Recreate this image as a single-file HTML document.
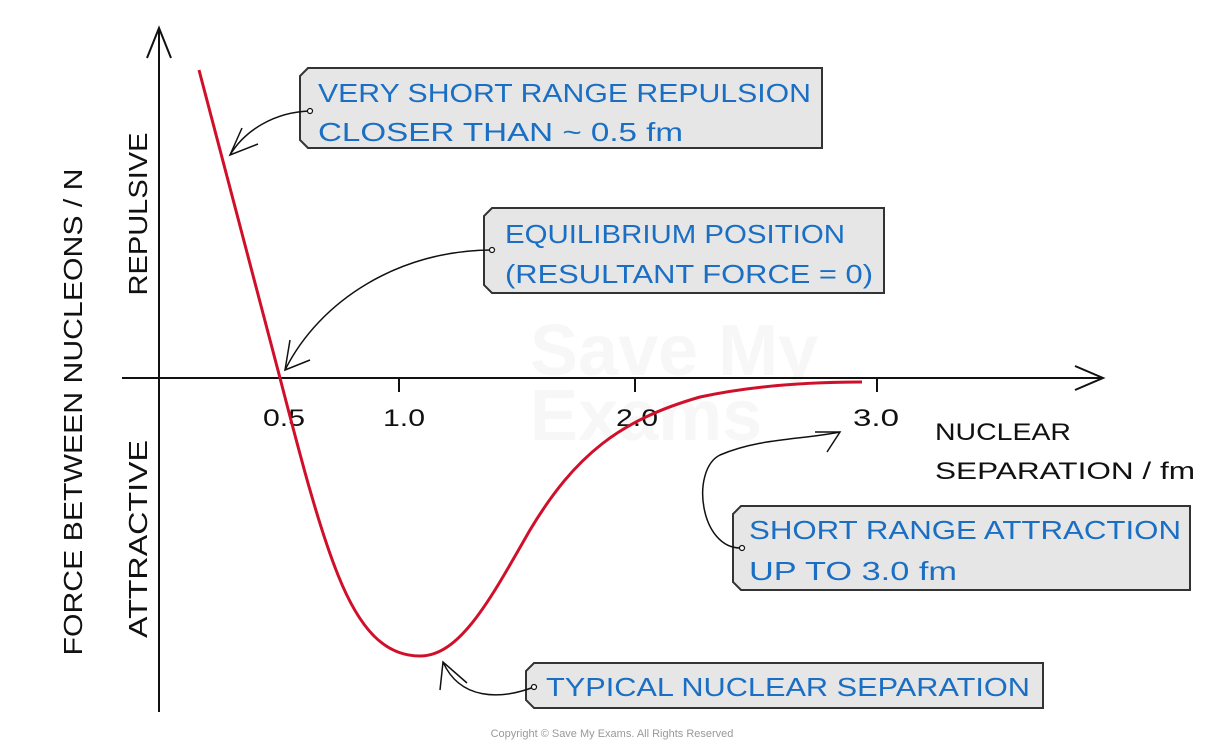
<!DOCTYPE html>
<html><head><meta charset="utf-8"><style>
html,body{margin:0;padding:0;background:#fff;}
svg{display:block;}
text{font-family:"Liberation Sans",sans-serif;}
</style></head><body>
<svg width="1226" height="748" viewBox="0 0 1226 748" xmlns="http://www.w3.org/2000/svg">
<!-- watermark -->
<text x="530" y="375" font-size="72" font-weight="bold" fill="#f7f7f7">Save My</text>
<text x="530" y="440" font-size="72" font-weight="bold" fill="#f7f7f7">Exams</text>
<!-- axes -->
<g stroke="#111" stroke-width="2" fill="none">
<line x1="159" y1="30" x2="159" y2="712"/>
<polyline points="147,58 159,28 171,58"/>
<line x1="122" y1="378" x2="1103" y2="378"/>
<polyline points="1075,366 1103,378 1075,390"/>
<line x1="399" y1="378" x2="399" y2="392"/>
<line x1="635" y1="378" x2="635" y2="392"/>
<line x1="877" y1="378" x2="877" y2="392"/>
</g>
<!-- axis labels -->
<g font-size="24" fill="#111">
<text x="263" y="426" textLength="42" lengthAdjust="spacingAndGlyphs">0.5</text>
<text x="383" y="426" textLength="42" lengthAdjust="spacingAndGlyphs">1.0</text>
<text x="616" y="426" textLength="42" lengthAdjust="spacingAndGlyphs">2.0</text>
<text x="853" y="426" textLength="46" lengthAdjust="spacingAndGlyphs">3.0</text>
<text x="935" y="440" textLength="136" lengthAdjust="spacingAndGlyphs">NUCLEAR</text>
<text x="935" y="479" textLength="260" lengthAdjust="spacingAndGlyphs">SEPARATION / fm</text>
</g>
<g font-size="26" fill="#111">
<text transform="translate(82,412) rotate(-90)" text-anchor="middle" textLength="487" lengthAdjust="spacingAndGlyphs">FORCE BETWEEN NUCLEONS / N</text>
<text transform="translate(147,214) rotate(-90)" text-anchor="middle" textLength="163" lengthAdjust="spacingAndGlyphs">REPULSIVE</text>
<text transform="translate(147,539) rotate(-90)" text-anchor="middle" textLength="198" lengthAdjust="spacingAndGlyphs">ATTRACTIVE</text>
</g>
<!-- curve -->
<path d="M199,70 L280,378 C300,455 318,525 338,575 C360,630 385,656 420,656 C460,656 490,600 530,530 C575,455 620,420 700,397 C760,384 820,382 862,382" fill="none" stroke="#d0102a" stroke-width="3"/>
<!-- boxes -->
<g fill="#e6e6e6" stroke="#333" stroke-width="2">
<polygon points="308,68 822,68 822,148 308,148 300,140 300,76"/>
<polygon points="492,208 884,208 884,293 492,293 484,285 484,216"/>
<polygon points="741,506 1190,506 1190,590 741,590 733,582 733,514"/>
<polygon points="534,663 1043,663 1043,708 534,708 526,700 526,671"/>
</g>
<g font-size="26" fill="#1a6fc4">
<text x="318" y="102" textLength="493" lengthAdjust="spacingAndGlyphs">VERY SHORT RANGE REPULSION</text>
<text x="318" y="141" textLength="365" lengthAdjust="spacingAndGlyphs">CLOSER THAN  ~ 0.5 fm</text>
<text x="505" y="243" textLength="340" lengthAdjust="spacingAndGlyphs">EQUILIBRIUM POSITION</text>
<text x="505" y="283" textLength="368" lengthAdjust="spacingAndGlyphs">(RESULTANT FORCE = 0)</text>
<text x="749" y="539" textLength="432" lengthAdjust="spacingAndGlyphs">SHORT RANGE ATTRACTION</text>
<text x="749" y="580" textLength="208" lengthAdjust="spacingAndGlyphs">UP TO 3.0 fm</text>
<text x="546" y="696" textLength="484" lengthAdjust="spacingAndGlyphs">TYPICAL NUCLEAR SEPARATION</text>
</g>
<!-- connectors -->
<g stroke="#111" stroke-width="1.5" fill="none">
<path d="M310,111 C275,112 245,130 230,155"/>
<polyline points="242,128 230,155 258,144"/>
<path d="M492,250 C400,250 320,300 285,370"/>
<polyline points="290,340 285,370 310,360"/>
<path d="M742,548 C700,550 690,470 720,455 C760,438 800,440 840,432"/>
<polyline points="815,432 840,432 827,452"/>
<path d="M534,687 C500,700 460,700 443,662"/>
<polyline points="440,690 443,662 467,683"/>
</g>
<g fill="#fff" stroke="#111" stroke-width="1.2">
<circle cx="310" cy="111" r="2.5"/>
<circle cx="492" cy="250" r="2.5"/>
<circle cx="742" cy="548" r="2.5"/>
<circle cx="534" cy="687" r="2.5"/>
</g>
<text x="612" y="737" font-size="11" fill="#999" text-anchor="middle">Copyright © Save My Exams. All Rights Reserved</text>
</svg>
</body></html>
